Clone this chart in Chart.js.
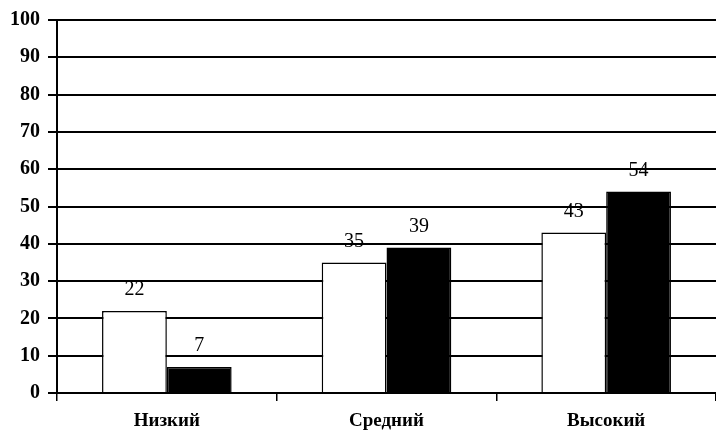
<!DOCTYPE html>
<html>
<head>
<meta charset="utf-8">
<script src="https://cdn.jsdelivr.net/npm/chart.js@4"></script>
<style>
  html, body { margin: 0; padding: 0; background: #fff; }
  #chart { display: block; }
</style>
</head>
<body>
<canvas id="chart" width="716" height="438"></canvas>
<script>
const categories = ['Низкий', 'Средний', 'Высокий'];
const whiteValues = [22, 35, 43];
const blackValues = [7, 39, 54];
const yTicks = [0, 10, 20, 30, 40, 50, 60, 70, 80, 90, 100];

// draw the value above every bar
const valueLabels = {
    id: 'valueLabels',
    afterDatasetsDraw(chart) {
        const ctx = chart.ctx;
        ctx.save();
        ctx.fillStyle = '#000';
        ctx.font = "20px 'Liberation Serif'";
        ctx.textAlign = 'center';
        ctx.textBaseline = 'bottom';
        chart.data.datasets.forEach((ds, i) => {
            chart.getDatasetMeta(i).data.forEach((bar, j) => {
                ctx.fillText(ds.data[j], bar.x, bar.y - 11);
            });
        });
        ctx.restore();
    }
};

new Chart(document.getElementById('chart'), {
    type: 'bar',
    data: {
        labels: categories,
        datasets: [
            {
                data: whiteValues,
                backgroundColor: '#fff',
                borderColor: '#000',
                borderWidth: 1.5,
                categoryPercentage: 0.59,
                barPercentage: 1.0
            },
            {
                data: blackValues,
                backgroundColor: '#000',
                borderColor: '#000',
                borderWidth: 1.5,
                categoryPercentage: 0.59,
                barPercentage: 1.0
            }
        ]
    },
    options: {
        responsive: false,
        animation: false,
        layout: { padding: { top: 18, right: 0, bottom: 6, left: 0 } },
        plugins: {
            legend: { display: false },
            tooltip: { enabled: false }
        },
        scales: {
            x: {
                grid: {
                    drawOnChartArea: false,
                    drawTicks: true,
                    tickLength: 8,
                    color: '#000',
                    lineWidth: 1.5
                },
                border: { color: '#000', width: 2 },
                ticks: {
                    color: '#000',
                    padding: 9,
                    font: { family: 'Liberation Serif', size: 19, weight: 'bold' }
                },
                afterFit(scale) { scale.height = 39; }
            },
            y: {
                min: 0,
                max: 100,
                afterBuildTicks(scale) { scale.ticks = yTicks.map(v => ({ value: v })); },
                grid: {
                    color: '#000',
                    lineWidth: 2,
                    tickLength: 9
                },
                border: { color: '#000', width: 2 },
                ticks: {
                    color: '#000',
                    padding: 8,
                    font: { family: 'Liberation Serif', size: 20, weight: 'bold' }
                },
                afterFit(scale) { scale.width = 57; }
            }
        }
    },
    plugins: [valueLabels]
});
</script>
</body>
</html>
